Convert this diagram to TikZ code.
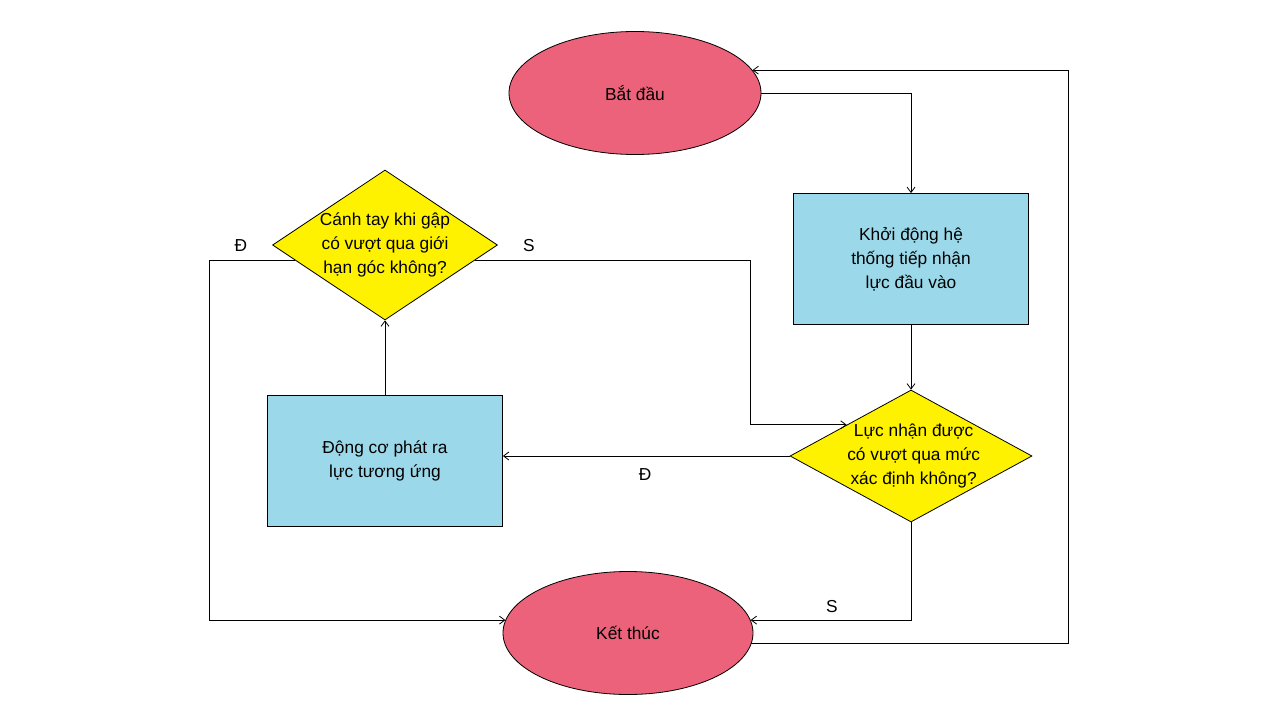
\documentclass[tikz,border=0pt]{standalone}
\usepackage{fontspec}
\setmainfont{Liberation Sans}
\usetikzlibrary{shapes.geometric,arrows.meta,calc}
\definecolor{pinkf}{RGB}{236,98,122}
\definecolor{bluef}{RGB}{155,217,234}
\definecolor{yellowf}{RGB}{255,242,0}
\begin{document}
\begin{tikzpicture}[x=0.75pt,y=-0.75pt,
  font=\fontsize{13}{18}\selectfont,
  line width=0.6pt,
  term/.style={ellipse,draw,fill=pinkf,minimum height=92.25pt,inner sep=0pt},
  proc/.style={rectangle,draw,fill=bluef,minimum width=176.25pt,minimum height=98.25pt,inner sep=0pt,align=center},
  dec/.style={diamond,draw,fill=yellowf,inner sep=0pt},
  arr/.style={-{Straight Barb[length=4pt,width=6pt]}},
  lab/.style={inner sep=0pt}
]
\useasboundingbox (0,0) rectangle (1280,720);
\fill[white] (0,0) rectangle (1280,720);

\node[term,minimum width=189pt] (start) at (635,93) {Bắt đầu};
\node[proc] (k1) at (911,259) {Khởi động hệ\\thống tiếp nhận\\lực đầu vào};
\node[dec,minimum width=168.75pt,minimum height=112.5pt,
      label={[align=center]center:Cánh tay khi gập\\có vượt qua giới\\hạn góc không?}] (d1) at (385,245) {};
\node[dec,minimum width=181.5pt,minimum height=99pt,
      label={[align=center,xshift=2pt]center:Lực nhận được\\có vượt qua mức\\xác định không?}] (d2) at (911,456) {};
\node[proc] (k2) at (385,461) {Động cơ phát ra\\lực tương ứng};
\node[term,minimum width=187.5pt] (end) at (628,633) {Kết thúc};

\coordinate (lx) at (209,0);
\coordinate (sx) at (750,0);
\coordinate (rx) at (1068,0);
\coordinate (d1L) at ($(d1.west)!0.2!(d1.south)$);
\coordinate (d1R) at ($(d1.east)!0.2!(d1.south)$);
\coordinate (d2in) at ($(d2.west)!0.47!(d2.north)$);

\draw[arr] (start.east) -| (k1.north);
\draw[arr] (k1.south) -- (d2.north);
\draw[arr] (d2.west) -- (d2.west -| k2.east);
\draw[arr] (k2.north) -- (d1.south);
\draw[arr] (d1L) -- (d1L -| lx) |- (end.174);
\draw[arr] (d1R) -- (d1R -| sx) |- (d2in);
\draw[arr] (d2.south) |- (end.6);
\draw[arr] (end.-5) -| (rx |- start.11) -- (start.11);

\node[lab] (lD1) at (241,246) {Đ};
\node[lab] (lS1) at (529,246) {S};
\node[lab] (lD2) at (645,475) {Đ};
\node[lab] (lS2) at (832,607) {S};
\end{tikzpicture}
\end{document}
